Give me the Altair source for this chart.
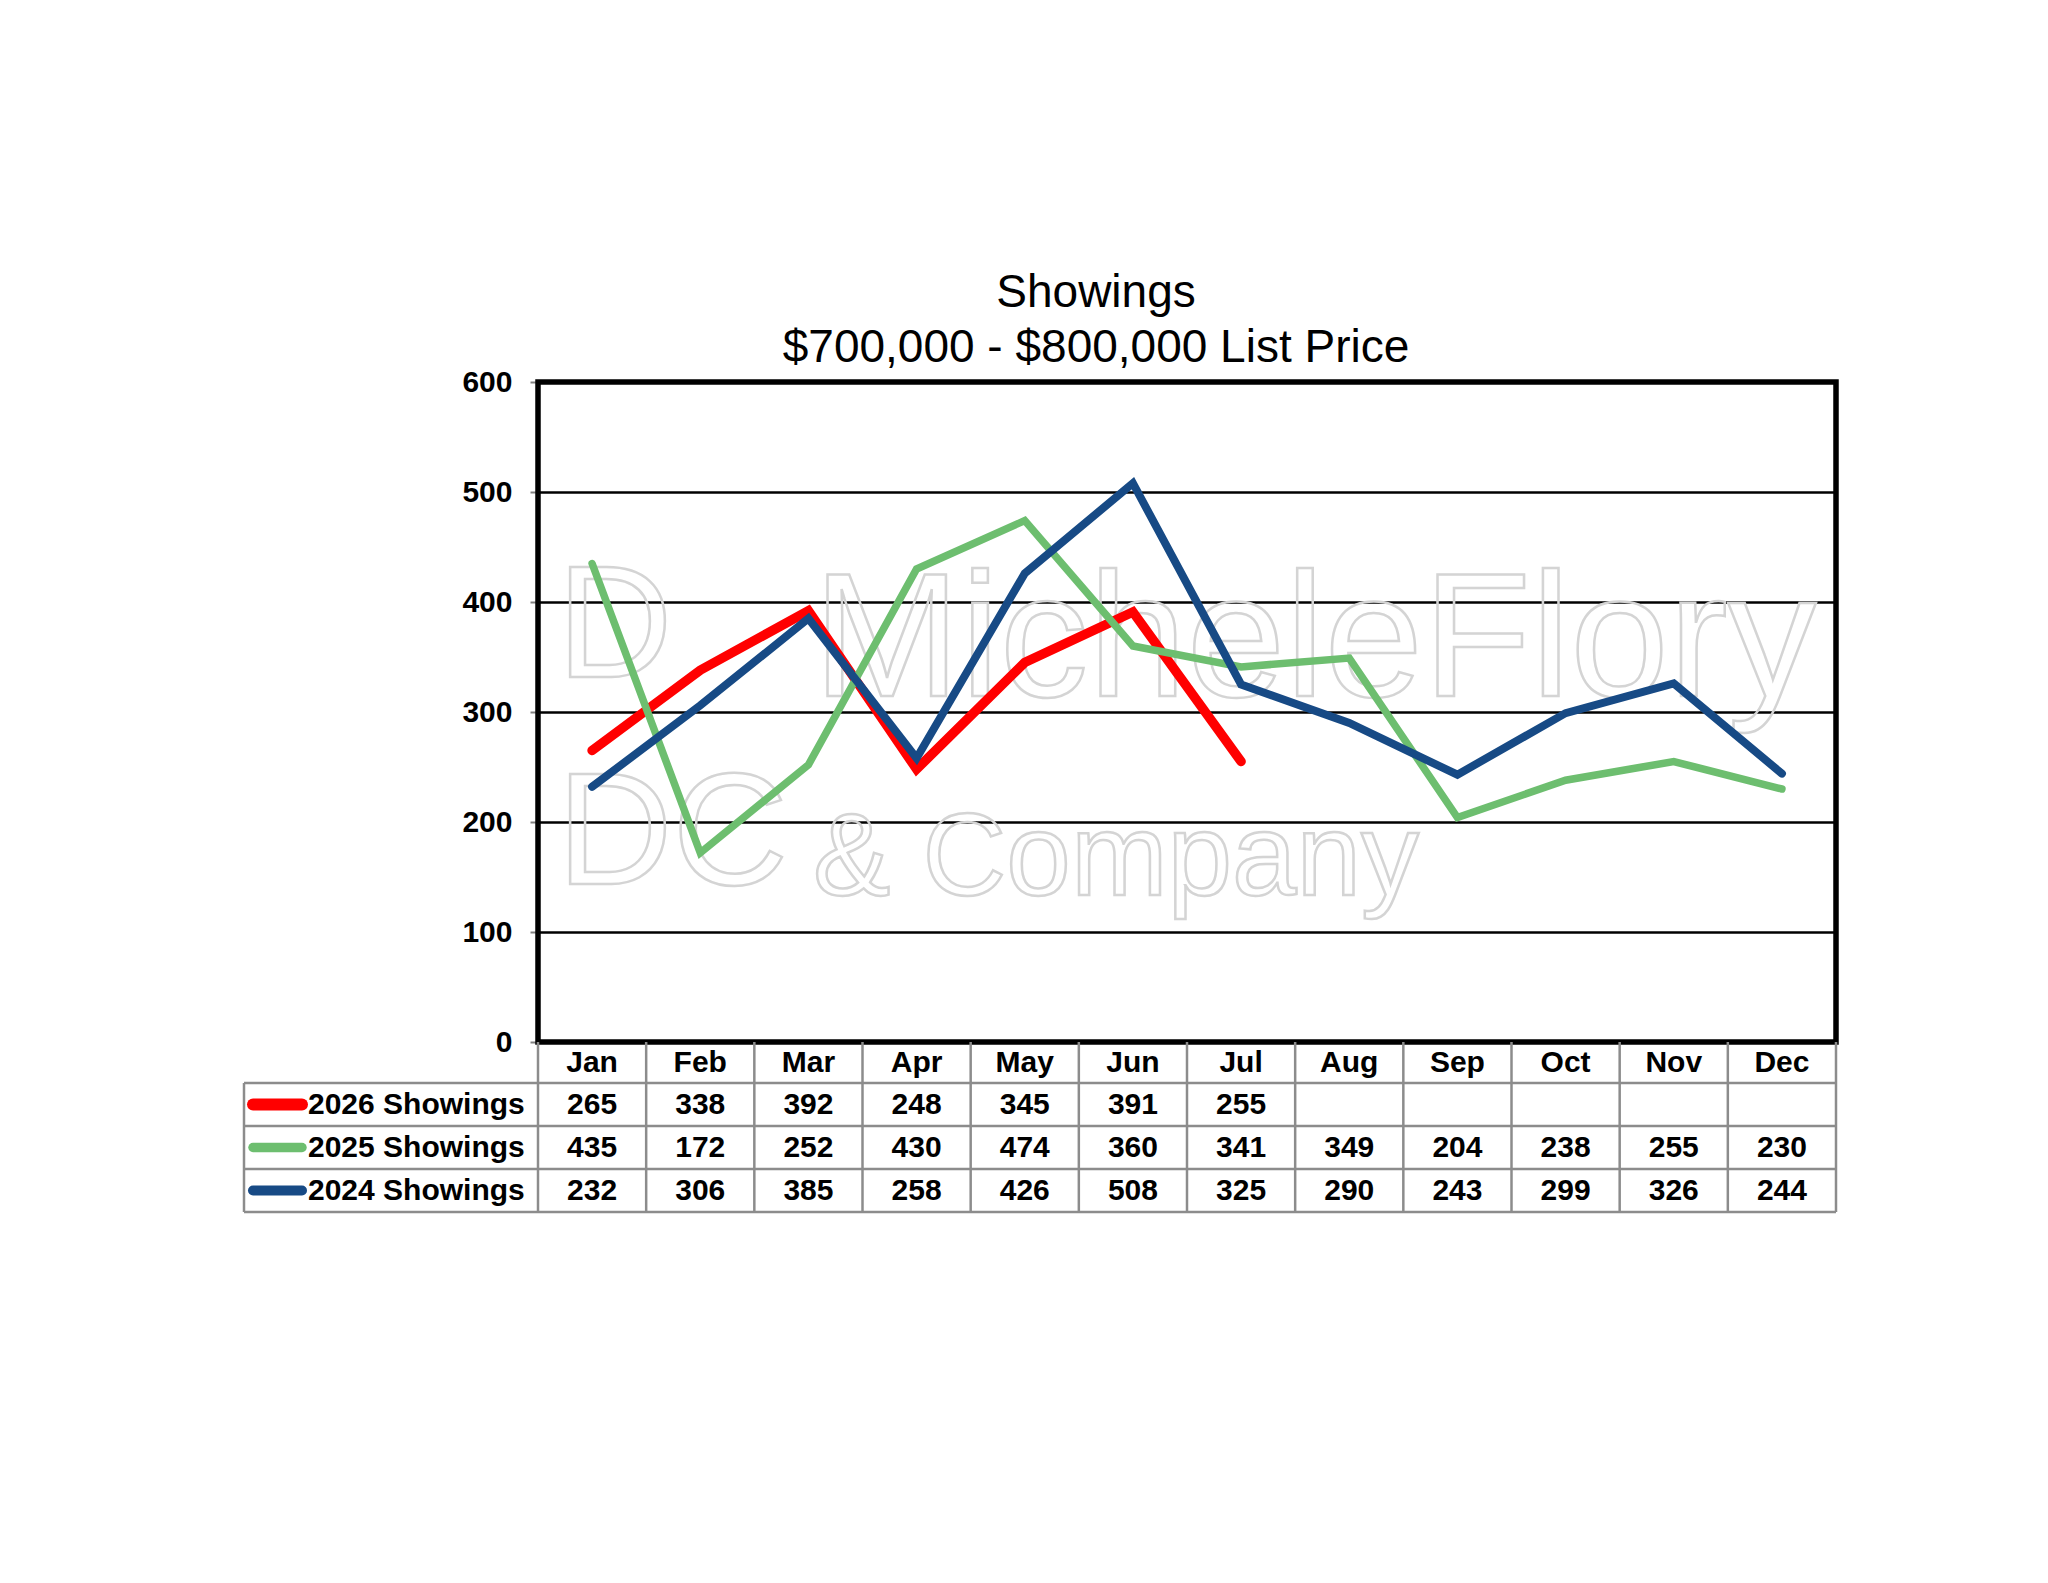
import altair as alt
import pandas as pd

# ---------------- data ----------------
months = ["Jan", "Feb", "Mar", "Apr", "May", "Jun", "Jul", "Aug", "Sep", "Oct", "Nov", "Dec"]
series_names = ["2026 Showings", "2025 Showings", "2024 Showings"]
s2026 = [265, 338, 392, 248, 345, 391, 255]
s2025 = [435, 172, 252, 430, 474, 360, 341, 349, 204, 238, 255, 230]
s2024 = [232, 306, 385, 258, 426, 508, 325, 290, 243, 299, 326, 244]
series_values = [s2026, s2025, s2024]
y_ticks = [0, 100, 200, 300, 400, 500, 600]
title_lines = ["Showings", "$700,000 - $800,000 List Price"]
watermark_lines = ["MicheleFlory", "& Company", "D", "DC"]

# ---------------- styles / layout ----------------
series_colors = ["#FF0000", "#6DBE6F", "#174A85"]
line_widths = [9.5, 7.5, 8]
swatch_widths = [12, 9.5, 10]
FONT = "Liberation Sans"
PLOT_W, PLOT_H = 1298, 660
Y_MAX = 600
N = len(months)
PX_PER_UNIT = PLOT_H / Y_MAX
COL_PX = PLOT_W / N
LEGEND_COL_PX = 294
row_edges_px = [0, 41, 84, 127, 170]
GRID_GRAY = "#8c8c8c"
TABLE_FS = 30


def ux(px):
    return px / COL_PX


def uy(px):
    return -px / PX_PER_UNIT


def uy_top(px):
    # px measured downward from the top of the plot area
    return (PLOT_H - px) / PX_PER_UNIT


XS = alt.Scale(domain=[0, N], nice=False, zero=False)
YS = alt.Scale(domain=[0, Y_MAX], nice=False, zero=False)

yaxis = alt.Axis(
    values=y_ticks, title=None, domain=False, grid=True, gridColor="black", gridWidth=2.5,
    ticks=True, tickColor="#808080", tickSize=8, tickWidth=2,
    labelFont=FONT, labelFontSize=30, labelFontWeight="bold", labelColor="black",
    labelPadding=18,
)


def X(f):
    return alt.X(f, type="quantitative", scale=XS, axis=None)


def X2(f):
    return alt.X2(f)


def Y(f):
    return alt.Y(f, type="quantitative", scale=YS, axis=yaxis)


layers = []

# ---------------- watermark ----------------
wm = pd.DataFrame({
    "t": watermark_lines,
    "x": [ux(275), ux(275), ux(19), ux(19)],
    "y": [uy_top(314), uy_top(513), uy_top(295), uy_top(502)],
    "fs": [177, 116, 160, 160],
})
for i in range(len(watermark_lines)):
    layers.append(
        alt.Chart(wm.iloc[[i]]).mark_text(
            font=FONT, fontSize=float(wm["fs"][i]), align="left", baseline="alphabetic",
            fillOpacity=0, stroke="#d4d4d4", strokeWidth=2.5
        ).encode(x=X("x"), y=Y("y"), text="t:N")
    )

# ---------------- lines ----------------
for k, (name, vals) in enumerate(zip(series_names, series_values)):
    df = pd.DataFrame({"x": [i + 0.5 for i in range(len(vals))], "v": vals, "series": name})
    layers.append(
        alt.Chart(df).mark_line(
            color=series_colors[k], strokeWidth=line_widths[k], strokeCap="round", strokeJoin="miter"
        ).encode(x=X("x"), y=Y("v"))
    )

# ---------------- plot border ----------------
border = pd.DataFrame({"x": [0], "x2": [N], "y": [0], "y2": [Y_MAX]})
layers.append(
    alt.Chart(border).mark_rect(fillOpacity=0, stroke="black", strokeWidth=5.5).encode(
        x=X("x"), x2=X2("x2"), y=Y("y"), y2=alt.Y2("y2")
    )
)

# ---------------- data table ----------------
rules = []
for i in range(N + 1):
    rules.append({"x": i, "x2": i, "y": uy(row_edges_px[0]), "y2": uy(row_edges_px[-1])})
rules.append({"x": ux(-LEGEND_COL_PX), "x2": ux(-LEGEND_COL_PX),
              "y": uy(row_edges_px[1]), "y2": uy(row_edges_px[-1])})
for e in row_edges_px[1:]:
    rules.append({"x": ux(-LEGEND_COL_PX), "x2": N, "y": uy(e), "y2": uy(e)})
rules_df = pd.DataFrame(rules)
layers.append(
    alt.Chart(rules_df).mark_rule(color=GRID_GRAY, strokeWidth=2.5).encode(
        x=X("x"), x2=X2("x2"), y=Y("y"), y2=alt.Y2("y2")
    )
)

row_centers = [uy((row_edges_px[r] + row_edges_px[r + 1]) / 2) for r in range(4)]
cells = []
for i, m in enumerate(months):
    cells.append({"x": i + 0.5, "y": row_centers[0], "t": m})
for k, vals in enumerate(series_values):
    for i, v in enumerate(vals):
        cells.append({"x": i + 0.5, "y": row_centers[k + 1], "t": str(v)})
cells_df = pd.DataFrame(cells)
layers.append(
    alt.Chart(cells_df).mark_text(
        font=FONT, fontSize=TABLE_FS, fontWeight="bold", color="black", align="center", baseline="middle"
    ).encode(x=X("x"), y=Y("y"), text="t:N")
)

leg_df = pd.DataFrame({"x": [ux(-230)] * 3, "y": row_centers[1:], "t": series_names})
layers.append(
    alt.Chart(leg_df).mark_text(
        font=FONT, fontSize=TABLE_FS, fontWeight="bold", color="black", align="left", baseline="middle"
    ).encode(x=X("x"), y=Y("y"), text="t:N")
)
for k in range(3):
    sw = pd.DataFrame({"x": [ux(-285)], "x2": [ux(-236)], "y": [row_centers[k + 1]]})
    layers.append(
        alt.Chart(sw).mark_rule(color=series_colors[k], strokeWidth=swatch_widths[k], strokeCap="round").encode(
            x=X("x"), x2=X2("x2"), y=Y("y")
        )
    )

chart = alt.layer(*layers).properties(
    width=PLOT_W,
    height=PLOT_H,
    padding={"left": 530, "top": 374, "right": 200, "bottom": 520},
    autosize=alt.AutoSizeParams(type="none"),
    background="white",
    title=alt.TitleParams(
        text=title_lines, font=FONT, fontSize=46, fontWeight="normal", color="black",
        anchor="middle", dx=-91, dy=9, offset=4, lineHeight=55,
    ),
).configure_view(stroke=None)

chart.save("out.html", embed_options={"renderer": "svg", "actions": False})
